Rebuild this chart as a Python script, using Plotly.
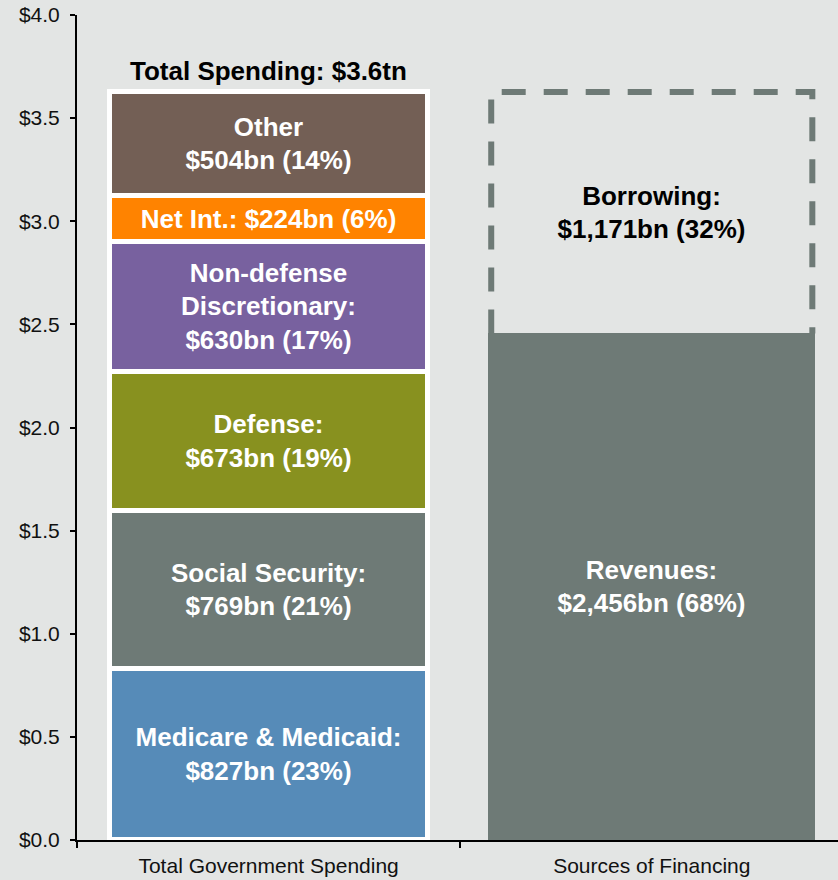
import plotly.graph_objects as go

# Federal budget, $ trillions
categories = ["Total Government Spending", "Sources of Financing"]

spend_names = ["Medicare & Medicaid:", "Social Security:", "Defense:",
               "Non-defense<br>Discretionary:", "Net Int.:", "Other"]
spend_values = [0.827, 0.769, 0.673, 0.630, 0.224, 0.504]
spend_colors = ["#568BB8", "#6E7A76", "#88911F", "#78619F", "#FF8300", "#735F55"]
spend_breaks = ["<br>", "<br>", "<br>", "<br>", " ", "<br>"]

finance_names = ["Revenues:", "Borrowing:"]
finance_values = [2.456, 1.171]

y_ticks = [0.0, 0.5, 1.0, 1.5, 2.0, 2.5, 3.0, 3.5, 4.0]
y_tick_text = ["$0.0", "$0.5", "$1.0", "$1.5", "$2.0", "$2.5", "$3.0", "$3.5", "$4.0"]

BG = "#E3E5E4"
GRAY = "#6E7A76"
FONT = "Liberation Sans, Arial, sans-serif"
LABEL_SIZE = 26

total = sum(spend_values)


def label(name, value, brk):
    pct = round(100 * value / total)
    return f"<b>{name}{brk}${value * 1000:,.0f}bn ({pct}%)</b>"


fig = go.Figure()

left_w = 0.83
right_w = 0.853

for name, val, col, brk in zip(spend_names, spend_values, spend_colors, spend_breaks):
    fig.add_trace(go.Bar(
        x=[categories[0]], y=[val], width=left_w,
        marker=dict(color=col, line=dict(color="white", width=5)),
        text=[label(name, val, brk)], textposition="inside",
        insidetextanchor="middle", textangle=0,
        textfont=dict(family=FONT, size=LABEL_SIZE, color="white"),
        showlegend=False, hoverinfo="skip",
    ))

# Revenues (solid) and borrowing (open, dashed outline)
fig.add_trace(go.Bar(
    x=[categories[1]], y=[finance_values[0]], width=right_w,
    marker=dict(color=GRAY, line=dict(width=0)),
    text=[label(finance_names[0], finance_values[0], "<br>")],
    textposition="inside", insidetextanchor="middle", textangle=0,
    textfont=dict(family=FONT, size=LABEL_SIZE, color="white"),
    showlegend=False, hoverinfo="skip",
))
fig.add_trace(go.Bar(
    x=[categories[1]], y=[finance_values[1]], width=right_w,
    marker=dict(color="rgba(0,0,0,0)", line=dict(width=0)),
    text=[label(finance_names[1], finance_values[1], "<br>")],
    textposition="inside", insidetextanchor="middle", textangle=0,
    textfont=dict(family=FONT, size=LABEL_SIZE, color="black"),
    showlegend=False, hoverinfo="skip",
))

# dashed outline around the borrowing block, on an overlaid numeric axis
outline_w = 0.838
x0, x1 = 1 - outline_w / 2, 1 + outline_w / 2
rev = finance_values[0]
top = finance_values[0] + finance_values[1]
fig.add_trace(go.Scatter(
    x=[x0, x0, x1, x1], y=[rev, top, top, rev], xaxis="x2",
    mode="lines", line=dict(color=GRAY, width=6, dash="24px,18px"),
    showlegend=False, hoverinfo="skip",
))

fig.add_annotation(
    x=categories[0], y=total, yanchor="bottom", yshift=4, showarrow=False,
    text=f"<b>Total Spending: ${total:.1f}tn</b>",
    font=dict(family=FONT, size=LABEL_SIZE, color="black"),
)

x_range = [-0.5, 1.486]
fig.update_layout(
    width=838, height=880,
    margin=dict(l=77, r=0, t=15, b=40),
    paper_bgcolor=BG, plot_bgcolor=BG,
    barmode="stack", bargap=0,
    font=dict(family=FONT, color="black"),
    xaxis=dict(
        type="category", range=x_range, tickson="boundaries",
        ticks="outside", ticklen=6, tickwidth=1.5, tickcolor="black",
        showline=True, linecolor="black", linewidth=2,
        showgrid=False, zeroline=False,
        tickfont=dict(family=FONT, size=21, color="#111"),
        ticklabelstandoff=6,
    ),
    xaxis2=dict(
        overlaying="x", range=x_range, visible=False, showgrid=False,
    ),
    yaxis=dict(
        range=[0, 4.0], tickvals=y_ticks, ticktext=y_tick_text,
        ticks="outside", ticklen=5, tickwidth=1.5, tickcolor="black",
        showline=True, linecolor="black", linewidth=2,
        showgrid=False, zeroline=False,
        tickfont=dict(family=FONT, size=21, color="#111"),
        ticklabelstandoff=6,
    ),
)

fig.write_html("out.html")
